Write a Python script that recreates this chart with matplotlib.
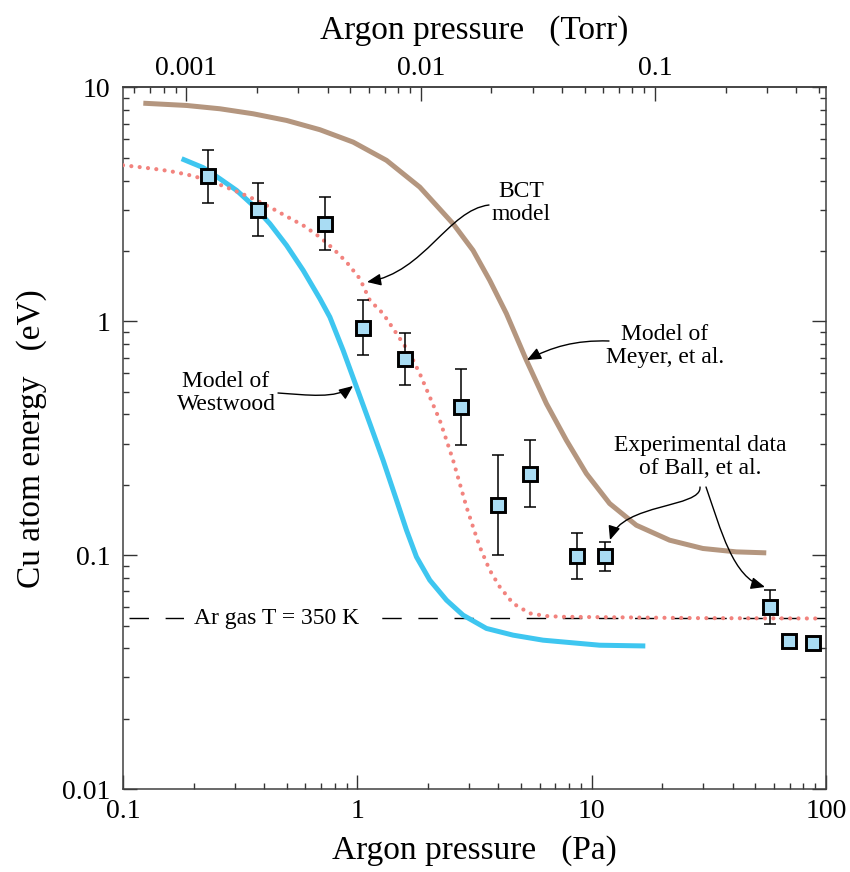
import numpy as np
import matplotlib
matplotlib.use('Agg')
import matplotlib.pyplot as plt
from matplotlib.path import Path
from matplotlib.patches import FancyArrowPatch
from matplotlib.ticker import FuncFormatter, NullFormatter, FixedLocator

plt.rcParams['font.family'] = ['Liberation Serif', 'DejaVu Serif']

# measured Cu atom energies (Ball et al.)
exp_pa = [0.230, 0.378, 0.727, 1.06, 1.59, 2.78, 3.99, 5.44, 8.65, 11.4, 57.4, 69.2, 87.9]
exp_ev = [4.2, 3.0, 2.62, 0.94, 0.693, 0.430, 0.164, 0.222, 0.099, 0.099, 0.0598, 0.043, 0.042]
exp_hi = [5.4, 3.89, 3.39, 1.23, 0.895, 0.624, 0.267, 0.31, 0.124, 0.114, 0.0709, np.nan, np.nan]
exp_lo = [3.2, 2.31, 2.01, 0.72, 0.533, 0.297, 0.10, 0.16, 0.079, 0.0857, 0.051, np.nan, np.nan]

# model of Meyer et al.
meyer_pa = [0.1221, 0.1869, 0.2592, 0.3594, 0.4990, 0.692, 0.960, 1.332, 1.847, 2.562, 3.117, 3.673,
            4.327, 5.267, 6.41, 7.80, 9.49, 11.93, 15.51, 21.51, 29.83, 41.41, 55.6]
meyer_ev = [8.567, 8.378, 8.11, 7.72, 7.23, 6.60, 5.84, 4.88, 3.75, 2.615, 2.011, 1.497,
            1.079, 0.6815, 0.4447, 0.310, 0.2234, 0.1663, 0.1343, 0.1159, 0.1068, 0.1033, 0.1023]

# model of Westwood
west_pa = [0.1779, 0.2200, 0.2592, 0.3053, 0.3594, 0.4235, 0.4990, 0.5874, 0.692, 0.7634, 0.8696,
           0.9922, 1.131, 1.288, 1.470, 1.621, 1.788, 2.038, 2.402, 2.826, 3.556, 4.617, 6.20,
           10.82, 16.94]
west_ev = [4.96, 4.54, 4.07, 3.63, 3.13, 2.615, 2.112, 1.652, 1.250, 1.043, 0.752,
           0.5238, 0.3654, 0.2547, 0.1718, 0.1279, 0.0983, 0.0782, 0.0642, 0.0554, 0.0486, 0.0455, 0.0433,
           0.0412, 0.0409]

# BCT model
bct_pa = [0.1, 0.1182, 0.1346, 0.1586, 0.1869, 0.2200, 0.2592, 0.3053, 0.3594, 0.4235, 0.4990,
          0.5874, 0.692, 0.7886, 0.8995, 1.025, 1.131, 1.288, 1.470, 1.675, 1.847, 2.038, 2.248,
          2.402, 2.562, 2.736, 2.922, 3.117, 3.330, 3.673, 4.052, 4.617, 5.44, 6.41, 7.54, 28.9, 95.7]
bct_ev = [4.65, 4.565, 4.494, 4.389, 4.249, 4.07, 3.84, 3.594, 3.345, 3.079, 2.810,
          2.572, 2.293, 2.045, 1.792, 1.522, 1.229, 1.079, 0.886, 0.728, 0.5977, 0.4749, 0.3776,
          0.310, 0.2547, 0.2025, 0.1609, 0.1321, 0.1085, 0.0863, 0.0732, 0.0622, 0.0564, 0.0549, 0.0545,
          0.0538, 0.0536]

ar_gas_ev = 0.0536
TORR_PA = 186.6  # top scale as drawn in the original

torr_major = [0.001, 0.01, 0.1]
torr_minor = [0.0006, 0.0007, 0.0008, 0.0009,
              0.002, 0.003, 0.004, 0.005, 0.006, 0.007, 0.008, 0.009,
              0.02, 0.03, 0.04, 0.05, 0.06, 0.07, 0.08, 0.09,
              0.2, 0.3, 0.4, 0.5]

fig = plt.figure(figsize=(8.5, 8.72), dpi=100)
ax = fig.add_axes([123 / 850, 1 - 789 / 872, 703 / 850, 701.5 / 872])
ax.set_xscale('log')
ax.set_yscale('log')
ax.set_xlim(0.1, 100)
ax.set_ylim(0.01, 10)

# gas temperature reference
ax.axhline(ar_gas_ev, xmin=0.008, xmax=1.0, color='black', lw=1, dashes=(14, 12), zorder=1)
ax.text(0.218, ar_gas_ev, 'Ar gas T = 350 K', transform=ax.get_yaxis_transform(),
        ha='center', va='center', fontsize=17,
        bbox=dict(facecolor='white', edgecolor='none', pad=7), zorder=2)

ax.plot(meyer_pa, meyer_ev, color='#b4967f', lw=3.6, solid_capstyle='butt',
        solid_joinstyle='round', zorder=3)
ax.plot(west_pa, west_ev, color='#3ec6f0', lw=3.6, solid_capstyle='butt',
        solid_joinstyle='round', zorder=3)
ax.plot(bct_pa, bct_ev, color='#f2837e', lw=3.0, linestyle=(0, (0.01, 2.0)),
        dash_capstyle='round', zorder=4)

x = np.array(exp_pa)
y = np.array(exp_ev)
hi = np.array(exp_hi)
lo = np.array(exp_lo)
ok = ~np.isnan(hi)
ax.errorbar(x[ok], y[ok], yerr=[y[ok] - lo[ok], hi[ok] - y[ok]], fmt='none', ecolor='black',
            elinewidth=1.1, capsize=4.3, capthick=1.1, zorder=5)
ax.plot(x, y, 's', ms=9.6, mfc='#a9dcf3', mec='black', mew=2.1, zorder=6)

# annotations
def curved_arrow(pts):
    f = [((px - 123) / 703, (789 - py) / 701.5) for px, py in pts]
    path = Path(f, [Path.MOVETO, Path.CURVE4, Path.CURVE4, Path.CURVE4])
    arr = FancyArrowPatch(path=path, arrowstyle='-|>,head_length=0.42,head_width=0.18',
                          mutation_scale=20, lw=1.0, color='black', transform=ax.transAxes, zorder=7)
    ax.add_patch(arr)

def label(px, py, s):
    ax.text((px - 123) / 703, (789 - py) / 701.5, s, transform=ax.transAxes, ha='center',
            va='center', fontsize=17, linespacing=1.1, zorder=8)

label(521, 203, 'BCT\nmodel')
curved_arrow([(489, 205), (448, 210), (425, 272), (367, 282)])
label(665, 346, 'Model of\nMeyer, et al.')
curved_arrow([(609, 341), (575, 340), (552, 347), (527, 360)])
label(226, 393, 'Model of\nWestwood')
curved_arrow([(278, 393), (308, 395), (336, 399), (353, 386)])
label(700, 457, 'Experimental data\nof Ball, et al.')
curved_arrow([(700, 487), (702, 508), (622, 503), (610, 540)])
curved_arrow([(706, 487), (721, 530), (733, 578), (765, 587)])

fmt = FuncFormatter(lambda v, p: '%g' % v)
for axis in (ax.xaxis, ax.yaxis):
    axis.set_major_formatter(fmt)
    axis.set_minor_formatter(NullFormatter())
ax.tick_params(which='both', direction='in', top=False, right=True, width=1.0, color='#333333')
ax.tick_params(which='major', length=10, labelsize=20)
ax.tick_params(which='minor', length=4)
ax.tick_params(axis='x', pad=7)
ax.tick_params(axis='y', pad=9)
for sp in ax.spines.values():
    sp.set_color('#404040')
    sp.set_linewidth(1.1)

secax = ax.secondary_xaxis('top', functions=(lambda p: p / TORR_PA, lambda t: t * TORR_PA))
secax.xaxis.set_major_locator(FixedLocator(torr_major))
secax.xaxis.set_minor_locator(FixedLocator(torr_minor))
secax.xaxis.set_major_formatter(fmt)
secax.xaxis.set_minor_formatter(NullFormatter())
secax.tick_params(which='both', direction='in', width=1.0, color='#333333')
secax.tick_params(which='major', length=10, labelsize=20, pad=5)
secax.tick_params(which='minor', length=4)
secax.spines['top'].set_color('#404040')
secax.spines['top'].set_linewidth(1.1)
secax.set_xlabel('Argon pressure   (Torr)', fontsize=24, labelpad=12)

ax.set_xlabel('Argon pressure   (Pa)', fontsize=24, labelpad=8)
ax.set_ylabel('Cu atom energy   (eV)', fontsize=24, labelpad=11)

fig.savefig('out.png', dpi=100, facecolor='white')
